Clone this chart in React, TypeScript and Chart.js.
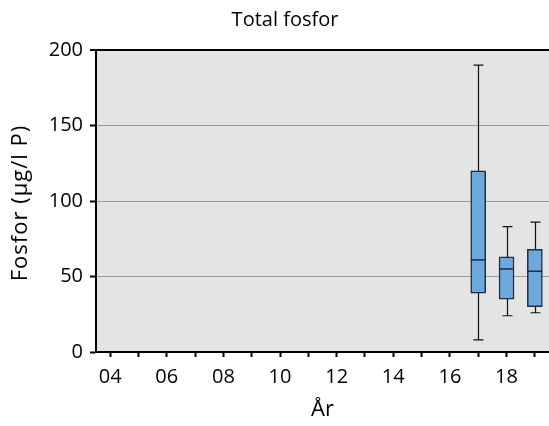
import React, { useEffect, useRef } from 'react';
import { Chart, registerables } from 'chart.js';

Chart.register(...registerables);

// Data
const chartTitle = 'Total fosfor';
const yAxisTitle = 'Fosfor (µg/l P)';
const xAxisTitle = 'År';
const years = [17, 18, 19];
const whiskerLow = [8, 24, 26];
const q1 = [39, 35, 30];
const median = [61, 55, 53.5];
const q3 = [120, 63, 68];
const whiskerHigh = [190, 83, 86];
const xTickYears = [4, 5, 6, 7, 8, 9, 10, 11, 12, 13, 14, 15, 16, 17, 18, 19];
const labeledYears = [4, 6, 8, 10, 12, 14, 16, 18];
const yTicks = [0, 50, 100, 150, 200];

const FONT = '"Open Sans", "Noto Sans", sans-serif';
const BOX_FILL = '#6fa8dc';
const BOX_BORDER = '#1e2d40';

const bgPlugin = {
  id: 'plotBg',
  beforeDraw(chart: any) {
    const { ctx, chartArea } = chart;
    ctx.save();
    ctx.fillStyle = '#e4e4e4';
    ctx.fillRect(chartArea.left, chartArea.top, chartArea.right - chartArea.left, chartArea.bottom - chartArea.top);
    ctx.restore();
  },
};

const boxPlugin = {
  id: 'boxParts',
  beforeDatasetsDraw(chart: any) {
    const { ctx } = chart;
    const xs = chart.scales.x;
    const ys = chart.scales.y;
    ctx.save();
    ctx.strokeStyle = '#111';
    ctx.lineWidth = 1.2;
    years.forEach((yr, i) => {
      const x = Math.round(xs.getPixelForValue(yr)) + 0.5;
      const yLo = ys.getPixelForValue(whiskerLow[i]);
      const yHi = ys.getPixelForValue(whiskerHigh[i]);
      ctx.beginPath();
      ctx.moveTo(x, yLo);
      ctx.lineTo(x, yHi);
      ctx.moveTo(x - 5, yLo);
      ctx.lineTo(x + 5, yLo);
      ctx.moveTo(x - 5, yHi);
      ctx.lineTo(x + 5, yHi);
      ctx.stroke();
    });
    ctx.restore();
  },
  afterDatasetsDraw(chart: any) {
    const { ctx } = chart;
    const xs = chart.scales.x;
    const ys = chart.scales.y;
    ctx.save();
    ctx.strokeStyle = BOX_BORDER;
    ctx.lineWidth = 1.5;
    years.forEach((yr, i) => {
      const x = xs.getPixelForValue(yr);
      const y = ys.getPixelForValue(median[i]);
      ctx.beginPath();
      ctx.moveTo(x - 7.5, y);
      ctx.lineTo(x + 7.5, y);
      ctx.stroke();
    });
    ctx.restore();
  },
};

const textPlugin = {
  id: 'texts',
  afterDraw(chart: any) {
    const { ctx, chartArea } = chart;
    ctx.save();
    ctx.fillStyle = '#000';
    ctx.textAlign = 'center';
    ctx.textBaseline = 'middle';
    ctx.font = `20px ${FONT}`;
    ctx.fillText(chartTitle, 285, 20);
    ctx.translate(21, (chartArea.top + chartArea.bottom) / 2 + 2);
    ctx.rotate(-Math.PI / 2);
    ctx.font = `22px ${FONT}`;
    try {
      (ctx as any).letterSpacing = '1px';
    } catch (e) {}
    ctx.fillText(yAxisTitle, 0, 0);
    ctx.restore();
  },
};

export default function App() {
  const ref = useRef<HTMLCanvasElement>(null);
  useEffect(() => {
    document.body.style.margin = '0';
    const chart = new Chart(ref.current as HTMLCanvasElement, {
      type: 'bar',
      data: {
        datasets: [
          {
            data: years.map((x, i) => ({ x, y: [q1[i], q3[i]] })) as any,
            backgroundColor: BOX_FILL,
            borderColor: BOX_BORDER,
            borderWidth: 1.5,
            borderSkipped: false,
            barThickness: 15,
          },
        ],
      },
      options: {
        responsive: false,
        animation: false,
        layout: { padding: { top: 50, right: 0, left: 0, bottom: 0 } },
        plugins: {
          legend: { display: false },
          title: { display: false },
          tooltip: { enabled: false },
        },
        scales: {
          x: {
            type: 'linear',
            min: 3.5,
            max: 19.5,
            offset: false,
            border: { display: true, color: '#000', width: 2 },
            grid: {
              display: true,
              offset: false,
              drawOnChartArea: false,
              drawTicks: true,
              tickLength: 5,
              tickColor: '#000',
              tickWidth: 2,
            },
            afterBuildTicks: (s: any) => {
              s.ticks = xTickYears.map((v) => ({ value: v }));
            },
            ticks: {
              autoSkip: false,
              maxRotation: 0,
              padding: 8,
              color: '#000',
              font: { family: FONT, size: 20 },
              callback: (v: any) => (labeledYears.includes(Number(v)) ? String(v).padStart(2, '0') : ''),
            },
            title: {
              display: true,
              text: xAxisTitle,
              color: '#000',
              font: { family: FONT, size: 22 },
              padding: { top: 0, bottom: 3 },
            },
            afterFit: (s: any) => {
              s.height = 74;
            },
          },
          y: {
            min: 0,
            max: 200,
            border: { display: true, color: '#000', width: 2 },
            grid: {
              display: true,
              color: (c: any) => (c.tick && c.tick.value === 200 ? '#000' : c.tick && c.tick.value === 0 ? 'rgba(0,0,0,0)' : '#9a9a9a'),
              lineWidth: (c: any) => (c.tick && c.tick.value === 200 ? 2 : 1),
              drawTicks: true,
              tickLength: 6,
              tickColor: '#000',
              tickWidth: 2,
            },
            afterBuildTicks: (s: any) => {
              s.ticks = yTicks.map((v) => ({ value: v }));
            },
            ticks: {
              padding: 7,
              color: '#000',
              font: { family: FONT, size: 20 },
            },
            afterFit: (s: any) => {
              s.width = 96;
            },
          },
        },
      },
      plugins: [bgPlugin, boxPlugin, textPlugin],
    } as any);
    return () => chart.destroy();
  }, []);
  return (
    <div style={{ width: 549, height: 426 }}>
      <canvas ref={ref} width={549} height={426} />
    </div>
  );
}
